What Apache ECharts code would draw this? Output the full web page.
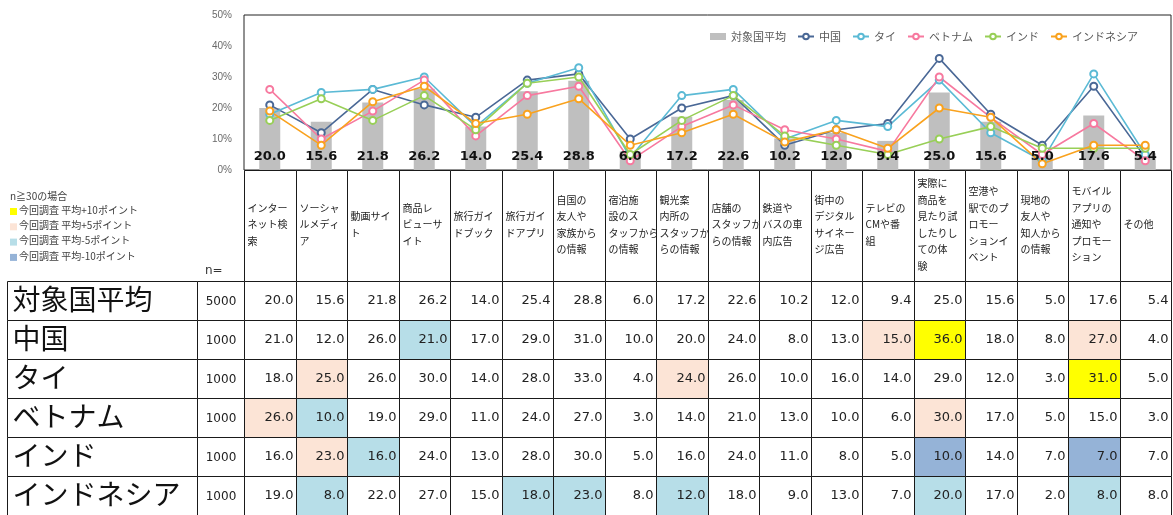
<!DOCTYPE html>
<html><head><meta charset="utf-8">
<script src="https://cdn.jsdelivr.net/npm/echarts@6/dist/echarts.min.js"></script>
<style>html,body{margin:0;padding:0;background:#fff}#c{width:1173px;height:515px}</style>
</head><body><div id="c"></div>
<script>
const categories = [
  'インター\nネット検\n索','ソーシャ\nルメディ\nア','動画サイ\nト','商品レ\nビューサ\nイト',
  '旅行ガイ\nドブック','旅行ガイ\nドアプリ','自国の\n友人や\n家族から\nの情報','宿泊施\n設のス\nタッフから\nの情報',
  '観光案\n内所の\nスタッフか\nらの情報','店舗の\nスタッフか\nらの情報','鉄道や\nバスの車\n内広告','街中の\nデジタル\nサイネー\nジ広告',
  'テレビの\nCMや番\n組','実際に\n商品を\n見たり試\nしたりし\nての体\n験','空港や\n駅でのプ\nロモー\nションイ\nベント','現地の\n友人や\n知人から\nの情報',
  'モバイル\nアプリの\n通知や\nプロモー\nション','その他'
];
const countries = ['対象国平均','中国','タイ','ベトナム','インド','インドネシア'];
const sampleSizes = [5000,1000,1000,1000,1000,1000];
const avgValues = [20.0,15.6,21.8,26.2,14.0,25.4,28.8,6.0,17.2,22.6,10.2,12.0,9.4,25.0,15.6,5.0,17.6,5.4];
const chinaValues = [21,12,26,21,17,29,31,10,20,24,8,13,15,36,18,8,27,4];
const thaiValues = [18,25,26,30,14,28,33,4,24,26,10,16,14,29,12,3,31,5];
const vietnamValues = [26,10,19,29,11,24,27,3,14,21,13,10,6,30,17,5,15,3];
const indiaValues = [16,23,16,24,13,28,30,5,16,24,11,8,5,10,14,7,7,7];
const indonesiaValues = [19,8,22,27,15,18,23,8,12,18,9,13,7,20,17,2,8,8];
const yTicks = [0,10,20,30,40,50];
const legendNotes = ['今回調査 平均+10ポイント','今回調査 平均+5ポイント','今回調査 平均-5ポイント','今回調査 平均-10ポイント'];

const rows = [avgValues, chinaValues, thaiValues, vietnamValues, indiaValues, indonesiaValues];
const lineColors = ['#4a6896','#5bbad5','#f7799f','#98cf57','#f9a21e'];
const noteColors = ['#ffff00','#fce4d6','#b7dee8','#95b3d7'];
const JP = '"Noto Sans CJK JP", sans-serif';

function cellFill(r, c){
  if (r === 0) return '#ffffff';
  const d = rows[r][c] - avgValues[c];
  if (d >= 10 - 1e-9) return noteColors[0];
  if (d >= 5 - 1e-9) return noteColors[1];
  if (d <= -10 + 1e-9) return noteColors[3];
  if (d <= -5 + 1e-9) return noteColors[2];
  return '#ffffff';
}

function cellBox(api){
  const c = api.coord([api.value(0), api.value(1)]);
  const s = api.size([1,1]);
  const x0 = Math.round(c[0]-s[0]/2)+0.5, x1 = Math.round(c[0]+s[0]/2)+0.5;
  const y0 = Math.round(c[1]-s[1]/2)+0.5, y1 = Math.round(c[1]+s[1]/2)+0.5;
  return {x0, x1, y0, y1, cy: c[1]};
}

function renderer(textFn, fillFn, textStyleFn){
  return function(params, api){
    const b = cellBox(api);
    const t = textStyleFn(b);
    return {type:'group', children:[
      {type:'rect', shape:{x:b.x0, y:b.y0, width:b.x1-b.x0, height:b.y1-b.y0},
       style:{fill: fillFn(params.dataIndex, api), stroke:'#1a1a1a', lineWidth:1}},
      {type:'text', style:Object.assign({text:textFn(params.dataIndex, api)}, t)}
    ]};
  };
}

const headerData = categories.map((c,i)=>[i,0]);
const valueData = [];
rows.forEach((arr,r)=>arr.forEach((v,c)=>valueData.push([c,r,v])));
const nameData = countries.map((c,r)=>[0,r]);
const nData = sampleSizes.map((n,r)=>[0,r]);
const colIdx = categories.map((c,i)=>i);

const chart = echarts.init(document.getElementById('c'));
const lineNames = ['中国','タイ','ベトナム','インド','インドネシア'];
const lineSeries = [chinaValues, thaiValues, vietnamValues, indiaValues, indonesiaValues].map((arr,i)=>({
  name: lineNames[i], type:'line', xAxisIndex:0, yAxisIndex:0, data: arr, z:4,
  symbol:'emptyCircle', symbolSize:7,
  lineStyle:{width:1.6, color: lineColors[i]},
  itemStyle:{color: lineColors[i], borderColor: lineColors[i], borderWidth:1.5}
}));

const TABLE_H = 243;
chart.setOption({
  animation:false,
  textStyle:{fontFamily: JP},
  legend:{
    data:[{name:'対象国平均', icon:'rect'}].concat(lineNames.map(n=>({name:n}))),
    top:26, right:30, itemWidth:16, itemHeight:7, itemGap:11,
    textStyle:{fontSize:11, color:'#595959', fontFamily: JP}
  },
  grid:[
    {left:244, top:15, width:927, height:155, show:true, borderColor:'#222', borderWidth:1},
    {left:244, top:170, width:927, height:111},
    {left:244, top:281, width:927, height:TABLE_H},
    {left:7, top:281, width:190, height:TABLE_H},
    {left:197, top:281, width:47, height:TABLE_H}
  ],
  xAxis:[
    {gridIndex:0, type:'category', data:categories, axisLine:{show:false}, axisTick:{show:false}, axisLabel:{show:false}},
    {gridIndex:1, type:'category', data:colIdx, show:false},
    {gridIndex:2, type:'category', data:colIdx, show:false},
    {gridIndex:3, type:'category', data:['name'], show:false},
    {gridIndex:4, type:'category', data:['n'], show:false}
  ],
  yAxis:[
    {gridIndex:0, type:'value', min:yTicks[0], max:yTicks[yTicks.length-1], interval:10,
     axisLine:{show:false}, axisTick:{show:false}, splitLine:{show:false},
     axisLabel:{formatter:'{value}%', fontSize:10, color:'#6a6a6a', margin:12, fontFamily:'Liberation Sans'}},
    {gridIndex:1, type:'category', data:['h'], show:false},
    {gridIndex:2, type:'category', data:countries, inverse:true, show:false},
    {gridIndex:3, type:'category', data:countries, inverse:true, show:false},
    {gridIndex:4, type:'category', data:countries, inverse:true, show:false}
  ],
  graphic:[
    {type:'text', left:10, top:191, style:{text:'n≧30の場合', fontSize:10, fill:'#404040', fontFamily:JP}},
    ...legendNotes.map((t,i)=>({type:'rect', left:10, top:208+i*15.3, shape:{width:7,height:7}, style:{fill:noteColors[i]}})),
    ...legendNotes.map((t,i)=>({type:'text', left:19, top:205+i*15.3, style:{text:t, fontSize:10, fill:'#404040', fontFamily:JP}})),
    {type:'text', left:205, top:265, style:{text:'n=', fontSize:12, fill:'#333', fontFamily:'DejaVu Sans'}}
  ],
  series:[
    {name:'対象国平均', type:'bar', xAxisIndex:0, yAxisIndex:0, data:avgValues, barWidth:21, barGap:'-100%',
     itemStyle:{color:'#bfbfbf'}, z:2},
    {name:'avgLabel', type:'bar', xAxisIndex:0, yAxisIndex:0, data:avgValues, barWidth:21, barGap:'-100%',
     itemStyle:{color:'rgba(0,0,0,0)'}, z:6, silent:true,
     label:{show:true, position:'insideBottom', distance:7, formatter:p=>p.value.toFixed(1),
       fontFamily:'DejaVu Sans', fontWeight:'bold', fontSize:13, color:'#111'}},
    ...lineSeries,
    {type:'custom', xAxisIndex:1, yAxisIndex:1, data:headerData, silent:true,
     renderItem: renderer(i=>categories[i], ()=>'#fff',
       b=>({x:b.x0+3, y:b.cy-1, align:'left', verticalAlign:'middle', fontSize:10, lineHeight:16.5, fontFamily:JP, fill:'#222'}))},
    {type:'custom', xAxisIndex:2, yAxisIndex:2, data:valueData, silent:true,
     renderItem: renderer((i,api)=>api.value(2).toFixed(1), (i,api)=>cellFill(api.value(1), api.value(0)),
       b=>({x:b.x1-3, y:b.cy, align:'right', verticalAlign:'middle', fontSize:13, fontFamily:'DejaVu Sans', fill:'#222'}))},
    {type:'custom', xAxisIndex:3, yAxisIndex:3, data:nameData, silent:true,
     renderItem: renderer(i=>countries[i], ()=>'#fff',
       b=>({x:b.x0+5, y:b.cy-1, align:'left', verticalAlign:'middle', fontSize:28, fontFamily:JP, fill:'#111'}))},
    {type:'custom', xAxisIndex:4, yAxisIndex:4, data:nData, silent:true,
     renderItem: renderer(i=>String(sampleSizes[i]), ()=>'#fff',
       b=>({x:(b.x0+b.x1)/2, y:b.cy+1, align:'center', verticalAlign:'middle', fontSize:12, fontFamily:'DejaVu Sans', fill:'#222'}))}
  ]
});
</script></body></html>
